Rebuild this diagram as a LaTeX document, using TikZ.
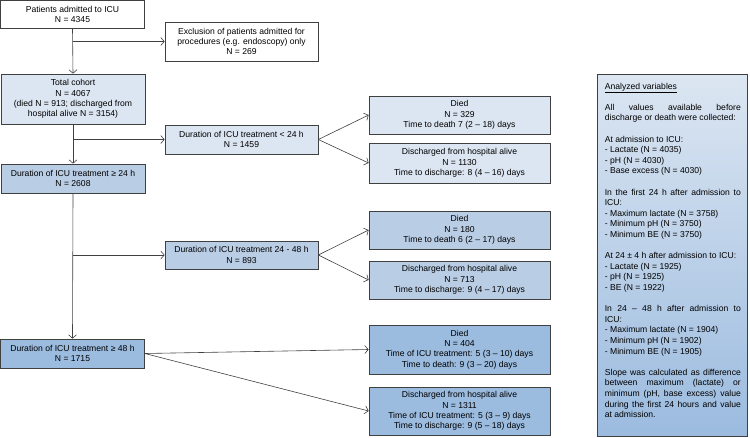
\documentclass[tikz,border=0pt]{standalone}
\usepackage{fontspec}
\setmainfont{Liberation Sans}
\usetikzlibrary{arrows.meta, positioning, shadings}

\definecolor{lightblue}{HTML}{DCE6F2}
\definecolor{midblue}{HTML}{B9CDE5}
\definecolor{darkblue}{HTML}{9BBBDF}
\definecolor{edge}{HTML}{404040}

\tikzset{
  box/.style={draw=edge, line width=0.7pt, align=center, inner sep=1pt,
    font=\fontsize{8.6}{10.4}\selectfont},
  arr/.style={draw=edge, line width=0.6pt, -{Straight Barb[length=3.5pt,width=8pt]}}
}

\begin{document}
\begin{tikzpicture}[x=1pt, y=-1pt]
\useasboundingbox (0,0) rectangle (750,437);

%the left column
\node [box, fill=white, minimum width=144pt, minimum height=28pt] (admit) at (72.5,14.5)
  {Patients admitted to ICU\\N = 4345};
\node [box, fill=lightblue, minimum width=144pt, minimum height=50pt] (cohort) at (73,99)
  {Total cohort\\N = 4067\\(died N = 913; discharged from\\hospital alive N = 3154)};
\node [box, fill=midblue, minimum width=144pt, minimum height=29pt] (over24) at (73,178.5)
  {Duration of ICU treatment ≥ 24 h\\N = 2608};
\node [box, fill=darkblue, minimum width=144pt, minimum height=29pt] (over48) at (72.5,353.5)
  {Duration of ICU treatment ≥ 48 h\\N = 1715};

%the middle column
\node [box, fill=white, minimum width=153pt, minimum height=39pt] (excl) at (241.5,41.5)
  {Exclusion of patients admitted for\\procedures (e.g. endoscopy) only\\N = 269};
\node [box, fill=lightblue, minimum width=153pt, minimum height=29pt] (under24) at (241.5,139.5)
  {Duration of ICU treatment < 24 h\\N = 1459};
\node [box, fill=midblue, minimum width=153pt, minimum height=28pt] (from24to48) at (241.5,255)
  {Duration of ICU treatment 24 - 48 h\\N = 893};

%the outcomes
\node [box, fill=lightblue, minimum width=181pt, minimum height=38pt] (died1) at (459.5,115)
  {Died\\N = 329\\Time to death 7 (2 -- 18) days};
\node [box, fill=lightblue, minimum width=181pt, minimum height=40pt] (alive1) at (459.5,163)
  {Discharged from hospital alive\\N = 1130\\Time to discharge: 8 (4 -- 16) days};
\node [box, fill=midblue, minimum width=181pt, minimum height=38pt] (died2) at (459.5,230)
  {Died\\N = 180\\Time to death 6 (2 -- 17) days};
\node [box, fill=midblue, minimum width=181pt, minimum height=38pt] (alive2) at (459.5,280)
  {Discharged from hospital alive\\N = 713\\Time to discharge: 9 (4 -- 17) days};
\node [box, fill=darkblue, minimum width=181pt, minimum height=49pt] (died3) at (459.5,349.5)
  {Died\\N = 404\\Time of ICU treatment: 5 (3 -- 10) days\\Time to death: 9 (3 -- 20) days};
\node [box, fill=darkblue, minimum width=181pt, minimum height=48pt] (alive3) at (459.5,411)
  {Discharged from hospital alive\\N = 1311\\Time of ICU treatment: 5 (3 -- 9) days\\Time to discharge: 9 (5 -- 18) days};

%the variables
\node [draw=edge, line width=0.7pt, top color=lightblue, bottom color=darkblue,
  minimum width=150pt, minimum height=362pt] (info) at (672,255) {};
\node [anchor=north west, inner sep=0pt, text width=136pt, align=justify,
  font=\fontsize{8.6}{10.6}\selectfont] (infotext) at ([shift={(8,9)}]info.north west)
  {\hyphenpenalty=10000
   \underline{Analyzed variables}\par\vspace{10.6pt}
   All values available before\linebreak discharge or death were collected:\par\vspace{10.6pt}
   At admission to ICU:\newline - Lactate (N = 4035)\newline - pH (N = 4030)\newline - Base excess (N = 4030)\par\vspace{10.6pt}
   In the first 24 h after admission to\linebreak ICU:\newline - Maximum lactate (N = 3758)\newline - Minimum pH (N = 3750)\newline - Minimum BE (N = 3750)\par\vspace{10.6pt}
   At 24 ± 4 h after admission to ICU:\newline - Lactate (N = 1925)\newline - pH (N = 1925)\newline - BE (N = 1922)\par\vspace{10.6pt}
   In 24 -- 48 h after admission to\linebreak ICU:\newline - Maximum lactate (N = 1904)\newline - Minimum pH (N = 1902)\newline - Minimum BE (N = 1905)\par\vspace{10.6pt}
   Slope was calculated as difference\linebreak between maximum (lactate) or\linebreak minimum (pH, base excess) value\linebreak during the first 24 hours and value\linebreak at admission.};

%the arrows
\draw [arr] (admit.south) -- (cohort.north);
\draw [arr] (admit.south |- excl.west) -- (excl.west);
\draw [arr] (cohort.south) -- (over24.north);
\draw [arr] (cohort.south |- under24.west) -- (under24.west);
\draw [arr] (over24.south) -- (over48.north);
\draw [arr] (over24.south |- from24to48.west) -- (from24to48.west);

\draw [arr] (under24.east) -- (died1.west);
\draw [arr] (under24.east) -- (alive1.west);
\draw [arr] (from24to48.east) -- (died2.west);
\draw [arr] (from24to48.east) -- (alive2.west);
\draw [arr] (over48.east) -- (died3.west);
\draw [arr] (over48.east) -- (alive3.west);
\end{tikzpicture}
\end{document}
